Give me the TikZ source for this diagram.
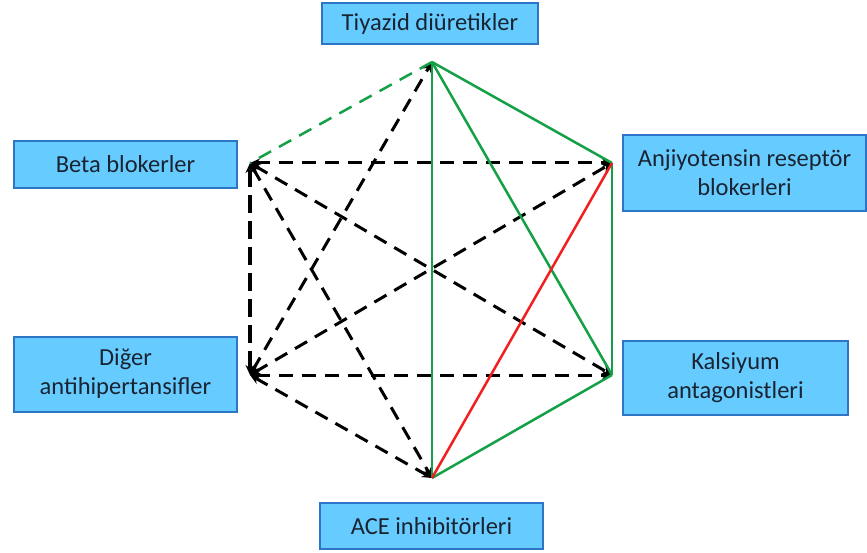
\documentclass[tikz,border=0pt]{standalone}
\usepackage{fontspec}
\setmainfont{Carlito}
\usepackage{tikz}
\usetikzlibrary{arrows.meta}

\definecolor{boxfill}{RGB}{102,204,255}
\definecolor{boxline}{RGB}{46,117,200}
\definecolor{boxtext}{RGB}{25,35,50}
\definecolor{ggreen}{RGB}{20,160,70}
\definecolor{rred}{RGB}{240,30,30}

\tikzset{
  drug/.style={draw=boxline, line width=2pt, fill=boxfill, align=center,
    text=boxtext, font=\fontsize{24.5}{29}\selectfont, inner sep=0pt},
  good/.style={ggreen, line width=2.5pt},
  bad/.style={rred, line width=2.5pt},
  avoid/.style={black, line width=3pt, dash pattern=on 14pt off 9pt,
    {Stealth[length=10pt,width=9pt]}-{Stealth[length=10pt,width=9pt]}}
}

\begin{document}
\begin{tikzpicture}[x=1pt,y=-1pt]
\useasboundingbox (0,0) rectangle (867,553);
\node [drug, minimum width=216pt, minimum height=41pt] (tiy) at (430,23.5) {Tiyazid diüretikler};
\node [drug, minimum width=223pt, minimum height=47pt] (beta) at (125.5,164.5) {Beta blokerler};
\node [drug, minimum width=243pt, minimum height=76pt] (arb) at (744.5,173) {Anjiyotensin reseptör\\blokerleri};
\node [drug, minimum width=223pt, minimum height=75pt] (diger) at (125.5,374) {Diğer\\antihipertansifler};
\node [drug, minimum width=225pt, minimum height=74pt] (kals) at (735.5,378) {Kalsiyum\\antagonistleri};
\node [drug, minimum width=223pt, minimum height=46pt] (ace) at (431.5,526) {ACE inhibitörleri};

\coordinate (vtiy) at (432,62);
\coordinate (vbeta) at (250,163);
\coordinate (varb) at (612,163);
\coordinate (vdiger) at (250,375);
\coordinate (vkals) at (612,375);
\coordinate (vace) at (432,478);

\draw [avoid] (vbeta) -- (varb);
\draw [avoid, line width=4pt, dash pattern=on 18pt off 8pt] (vbeta) -- (vdiger);
\draw [avoid] (vbeta) -- (vkals);
\draw [avoid] (vbeta) -- (vace);
\draw [avoid] (vdiger) -- (varb);
\draw [avoid] (vdiger) -- (vkals);
\draw [avoid] (vdiger) -- (vace);
\draw [avoid] (vdiger) -- (vtiy);

\draw [good, dash pattern=on 14pt off 9pt] (vtiy) -- (vbeta);
\draw [good] (vtiy) -- (vace);
\draw [good] (vtiy) -- (varb);
\draw [good] (vtiy) -- (vkals);
\draw [good] (varb) -- (vkals);
\draw [good] (vkals) -- (vace);
\draw [bad] (varb) -- (vace);
\end{tikzpicture}
\end{document}
